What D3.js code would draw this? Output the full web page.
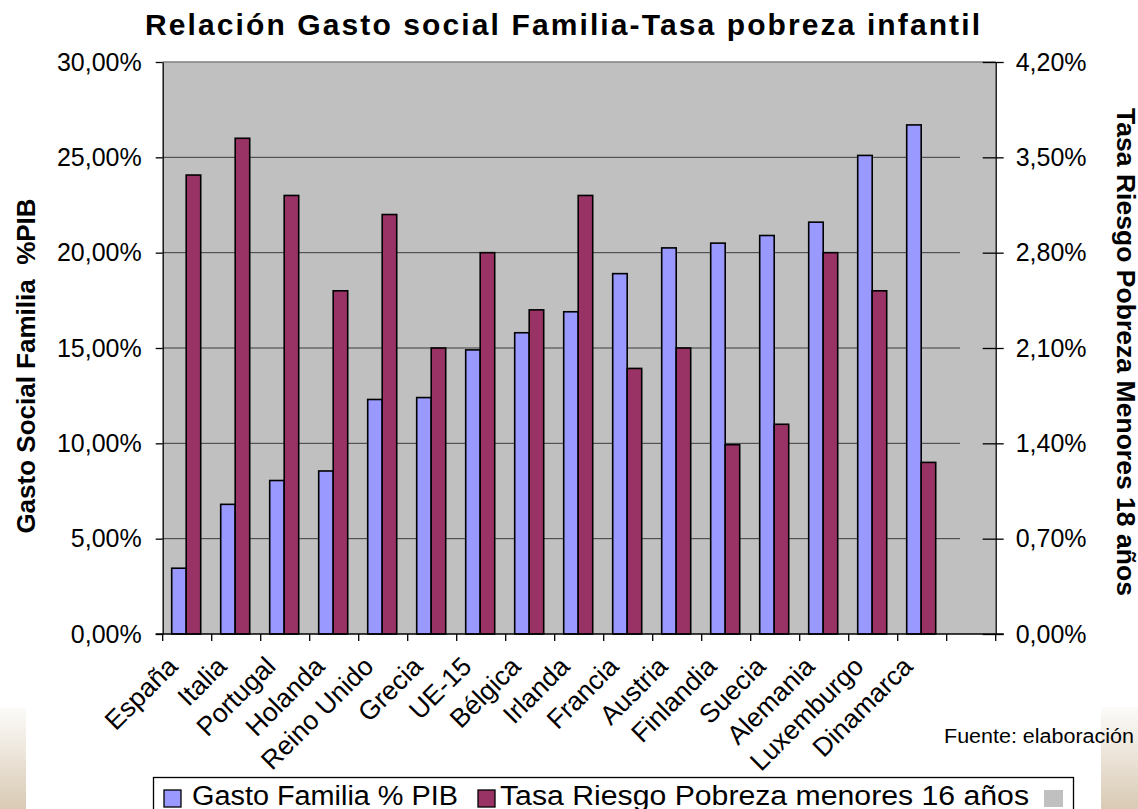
<!DOCTYPE html>
<html>
<head>
<meta charset="utf-8">
<script src="https://cdn.jsdelivr.net/npm/d3@7"></script>
<style>
  body { margin: 0; background: #fff; }
  svg text { font-family: "Liberation Sans", Arial, sans-serif; }
</style>
</head>
<body>
<svg id="chart"></svg>
<script>
// chart size
var w = 1138;
var h = 809;

var categories = ["España", "Italia", "Portugal", "Holanda", "Reino Unido", "Grecia", "UE-15",
  "Bélgica", "Irlanda", "Francia", "Austria", "Finlandia", "Suecia", "Alemania", "Luxemburgo", "Dinamarca"];

// left axis series (% PIB)
var gastoFamilia = [3.45, 6.8, 8.05, 8.55, 12.3, 12.4, 14.9, 15.8, 16.9, 18.9, 20.25, 20.5, 20.9, 21.6, 25.1, 26.7];
// right axis series
var tasaRiesgo = [3.37, 3.64, 3.22, 2.52, 3.08, 2.10, 2.80, 2.38, 3.22, 1.95, 2.10, 1.39, 1.54, 2.80, 2.52, 1.26];

var leftTicks = [0, 5, 10, 15, 20, 25, 30];
var rightTicks = [0, 0.7, 1.4, 2.1, 2.8, 3.5, 4.2];

var seriesNames = ["Gasto Familia % PIB", "Tasa Riesgo Pobreza menores 16 años"];
var seriesColors = ["#9999ff", "#993366"];

var plot = { left: 162.7, right: 995.7, top: 62, bottom: 634 };

var svg = d3.select('#chart').attr('width', w).attr('height', h);

function pct(v) { return v.toFixed(2).replace('.', ',') + '%'; }

// faint beige gradient strips at the bottom corners
var defs = svg.append('defs');
var grad = defs.append('linearGradient').attr('id', 'beige')
    .attr('x1', 0).attr('y1', 0).attr('x2', 0).attr('y2', 1);
grad.append('stop').attr('offset', '0%').attr('stop-color', '#fcfbf9');
grad.append('stop').attr('offset', '100%').attr('stop-color', '#d9cab4');
svg.append('rect').attr('x', 0).attr('y', 708).attr('width', 26).attr('height', 101).attr('fill', 'url(#beige)');
svg.append('rect').attr('x', 1101).attr('y', 707).attr('width', 37).attr('height', 102).attr('fill', 'url(#beige)');

// scales
var slots = categories.concat(["_"]);  // extra empty slot at the end
var x0 = d3.scaleBand().domain(slots).range([plot.left, plot.right]);
var x1 = d3.scaleBand().domain([0, 1]).range([9, 38]);
var yL = d3.scaleLinear().domain([0, 30]).range([plot.bottom, plot.top]);
var yR = d3.scaleLinear().domain([0, 4.2]).range([plot.bottom, plot.top]);

// title
svg.append('text')
    .attr('x', 562.5).attr('y', 35)
    .attr('text-anchor', 'middle')
    .attr('font-size', 30).attr('font-weight', 'bold')
    .attr('textLength', 835).attr('lengthAdjust', 'spacing')
    .text("Relación Gasto social Familia-Tasa pobreza infantil");

// plot background
svg.append('rect')
    .attr('x', plot.left).attr('y', plot.top)
    .attr('width', plot.right - plot.left).attr('height', plot.bottom - plot.top)
    .attr('fill', '#c0c0c0');

// gridlines (they stop short of the right axis in the original)
svg.append('g').selectAll('line').data(leftTicks.slice(1, -1)).enter()
    .append('line')
    .attr('x1', plot.left).attr('x2', 960)
    .attr('y1', function(d) { return yL(d); }).attr('y2', function(d) { return yL(d); })
    .attr('stroke', '#3c3c3c').attr('stroke-width', 1);
svg.append('line')
    .attr('x1', plot.left).attr('x2', plot.right)
    .attr('y1', plot.top).attr('y2', plot.top)
    .attr('stroke', '#808080').attr('stroke-width', 1.5);

// bars
var groups = svg.append('g').selectAll('g').data(categories).enter()
    .append('g')
    .attr('transform', function(d) { return 'translate(' + x0(d) + ',0)'; });

groups.append('rect')
    .attr('x', x1(0)).attr('width', x1.bandwidth())
    .attr('y', function(d, i) { return yL(gastoFamilia[i]); })
    .attr('height', function(d, i) { return yL(0) - yL(gastoFamilia[i]); })
    .attr('fill', seriesColors[0]).attr('stroke', 'black').attr('stroke-width', 1.6);

groups.append('rect')
    .attr('x', x1(1)).attr('width', x1.bandwidth())
    .attr('y', function(d, i) { return yR(tasaRiesgo[i]); })
    .attr('height', function(d, i) { return yR(0) - yR(tasaRiesgo[i]); })
    .attr('fill', seriesColors[1]).attr('stroke', 'black').attr('stroke-width', 1.6);

// left axis
var leftAxis = svg.append('g')
    .attr('transform', 'translate(' + plot.left + ',0)')
    .call(d3.axisLeft(yL).tickValues(leftTicks).tickFormat(pct).tickSize(7).tickSizeOuter(0).tickPadding(14));
leftAxis.select('.domain').attr('stroke', 'black').attr('stroke-width', 1.3);
leftAxis.selectAll('.tick line').attr('stroke', 'black').attr('stroke-width', 1.3);
leftAxis.selectAll('.tick text').attr('font-size', 25).attr('font-family', '"Liberation Sans", Arial, sans-serif').attr('fill', 'black');

// right axis, ticks cross the axis line
var rightAxis = svg.append('g')
    .attr('transform', 'translate(' + plot.right + ',0)')
    .call(d3.axisRight(yR).tickValues(rightTicks).tickFormat(pct).tickSize(8).tickSizeOuter(0).tickPadding(12));
rightAxis.select('.domain').attr('stroke', 'black').attr('stroke-width', 1.3);
rightAxis.selectAll('.tick line').attr('x1', -13).attr('stroke', 'black').attr('stroke-width', 1.3);
rightAxis.selectAll('.tick text').attr('font-size', 25).attr('font-family', '"Liberation Sans", Arial, sans-serif').attr('fill', 'black');

// bottom axis line and category boundary ticks
svg.append('line')
    .attr('x1', plot.left - 7).attr('x2', plot.right + 8)
    .attr('y1', plot.bottom).attr('y2', plot.bottom)
    .attr('stroke', 'black').attr('stroke-width', 1.3);
svg.append('g').selectAll('line').data(d3.range(slots.length + 1)).enter()
    .append('line')
    .attr('x1', function(i) { return plot.left + i * x0.step(); })
    .attr('x2', function(i) { return plot.left + i * x0.step(); })
    .attr('y1', plot.bottom).attr('y2', plot.bottom + 7)
    .attr('stroke', 'black').attr('stroke-width', 1.3);

// category labels, rotated
svg.append('g').selectAll('text').data(categories).enter()
    .append('text')
    .attr('transform', function(d) {
      return 'translate(' + (x0(d) + x0.bandwidth() / 2 - 8) + ',668) rotate(-45)';
    })
    .attr('text-anchor', 'end')
    .attr('font-size', 26.5)
    .text(function(d) { return d; });

// axis titles
svg.append('text')
    .attr('transform', 'translate(35,366) rotate(-90)')
    .attr('text-anchor', 'middle')
    .attr('font-size', 26).attr('font-weight', 'bold')
    .style('white-space', 'pre')
    .text("Gasto Social Familia  %PIB");

svg.append('text')
    .attr('transform', 'translate(1117,352) rotate(90)')
    .attr('text-anchor', 'middle')
    .attr('font-size', 25.5).attr('font-weight', 'bold')
    .attr('textLength', 488).attr('lengthAdjust', 'spacingAndGlyphs')
    .text("Tasa Riesgo Pobreza Menores 18 años");

// source note (clipped at the right edge in the original)
svg.append('text')
    .attr('x', 944).attr('y', 743)
    .attr('font-size', 19.5)
    .attr('textLength', 190).attr('lengthAdjust', 'spacingAndGlyphs')
    .text("Fuente: elaboración");

// legend
var legend = svg.append('g');
legend.append('rect')
    .attr('x', 153.5).attr('y', 777.5).attr('width', 920).attr('height', 60)
    .attr('fill', 'white').attr('stroke', 'black').attr('stroke-width', 1.3);

var legendX = [164, 478];
var legendTextX = [192, 500];
var legendTextW = [266, 529];
seriesNames.forEach(function(name, i) {
  legend.append('rect')
      .attr('x', legendX[i]).attr('y', 790).attr('width', 17).attr('height', 17)
      .attr('fill', seriesColors[i]).attr('stroke', 'black').attr('stroke-width', 1.3);
  legend.append('text')
      .attr('x', legendTextX[i]).attr('y', 805)
      .attr('font-size', 27)
      .attr('textLength', legendTextW[i]).attr('lengthAdjust', 'spacingAndGlyphs')
      .text(name);
});
// third, unlabeled legend entry
legend.append('rect')
    .attr('x', 1044).attr('y', 790).attr('width', 19).attr('height', 17)
    .attr('fill', '#c0c0c0');
</script>
</body>
</html>
